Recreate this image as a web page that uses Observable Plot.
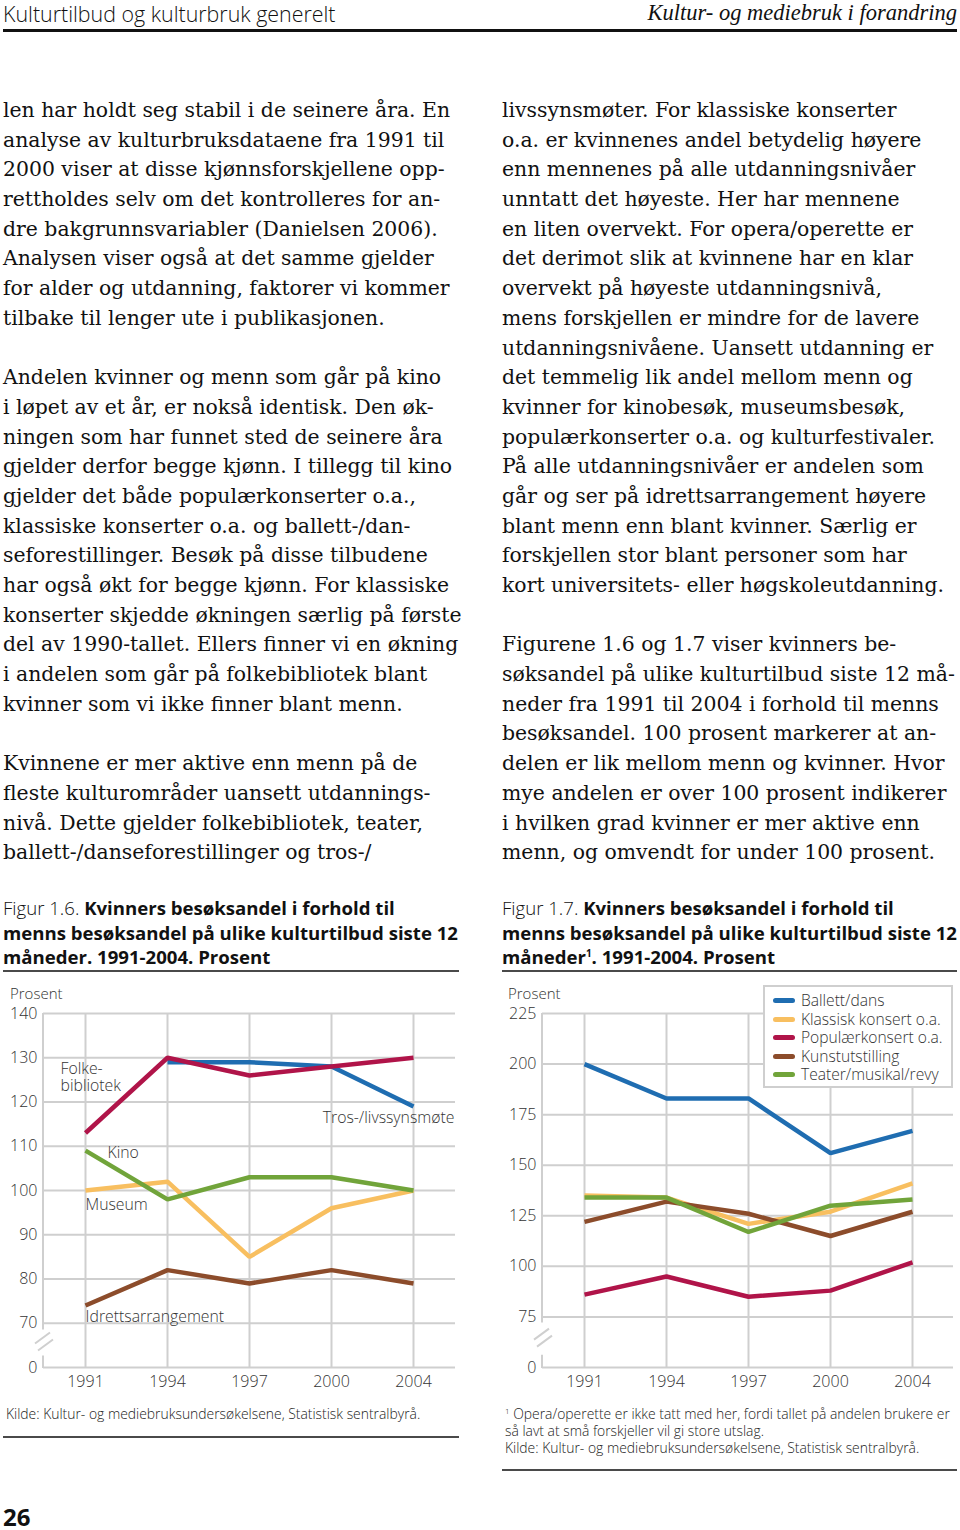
<!DOCTYPE html>
<html><head><meta charset="utf-8">
<script src="https://cdn.jsdelivr.net/npm/d3@7"></script>
<script src="https://cdn.jsdelivr.net/npm/@observablehq/plot@0.6"></script>
<style>
body{margin:0;background:#fff;}
#page{position:relative;width:960px;height:1530px;overflow:hidden;background:#fff;color:#1a1a1a;}
.abs{position:absolute;white-space:nowrap;}
.sans{font-family:"Open Sans",Roboto,sans-serif;}
.col{position:absolute;top:96px;font-family:"DejaVu Serif",serif;font-size:20.4px;line-height:29.7px;color:#111;}
.col div{height:29.7px;white-space:nowrap;}
.cap{font-family:"Open Sans",sans-serif;font-size:18.6px;line-height:24.5px;color:#111;top:896px;}
.cap .lt{font-weight:300;}
.cap b{font-weight:700;}
.rule{position:absolute;background:#4a4a4a;height:2px;}
.src{font-family:"Open Sans",sans-serif;font-weight:300;font-size:13.9px;line-height:17px;color:#222;}
.plotbox{position:absolute;}
.prosent{font-family:"Open Sans",sans-serif;font-weight:300;font-size:15px;color:#333;}
.legend{position:absolute;left:763px;top:985px;width:186px;height:99px;border:2px solid #cfcfcf;background:#fff;font-family:"Open Sans",sans-serif;font-weight:300;font-size:15.6px;color:#333;}
.legend .row{position:absolute;left:8px;height:18px;line-height:18px;white-space:nowrap;}
.legend .sw{display:inline-block;width:22px;height:5px;border-radius:3px;vertical-align:middle;margin-right:6px;position:relative;top:-1px;}
</style></head>
<body><div id="page">
<div class="abs sans" style="left:3px;top:-1px;font-size:21.4px;font-weight:300;color:#111;">Kulturtilbud og kulturbruk generelt</div>
<div class="abs" style="right:3px;top:0px;font-family:'Liberation Serif',serif;font-style:italic;font-size:22.5px;color:#111;">Kultur- og mediebruk i forandring</div>
<div class="rule" style="left:3px;top:29px;width:954px;height:3px;background:#111;"></div>
<div id="colL" class="col" style="left:3px;"></div>
<div id="colR" class="col" style="left:502px;"></div>
<div class="abs cap" style="left:3px;"><span class="lt">Figur 1.6. </span><b>Kvinners besøksandel i forhold til</b><br><b>menns besøksandel på ulike kulturtilbud siste 12</b><br><b>måneder. 1991-2004. Prosent</b></div>
<div class="abs cap" style="left:502px;"><span class="lt">Figur 1.7. </span><b>Kvinners besøksandel i forhold til</b><br><b>menns besøksandel på ulike kulturtilbud siste 12</b><br><b>måneder<sup style="font-size:10px;vertical-align:7px;line-height:0">1</sup>. 1991-2004. Prosent</b></div>
<div class="rule" style="left:3px;top:970px;width:456px;"></div>
<div class="rule" style="left:502px;top:970px;width:455px;"></div>
<div id="chart1" class="plotbox" style="left:0px;top:980px;"></div>
<div id="chart2" class="plotbox" style="left:495px;top:980px;"></div>
<div class="abs prosent" style="left:10px;top:983px;">Prosent</div>
<div class="abs prosent" style="left:508px;top:983px;">Prosent</div>
<div id="legend" class="legend"></div>
<div class="abs src" style="left:6px;top:1405px;">Kilde: Kultur- og mediebruksundersøkelsene, Statistisk sentralbyrå.</div>
<div class="rule" style="left:3px;top:1436px;width:456px;"></div>
<div class="abs src" style="left:505px;top:1405px;"><sup style="font-size:8px;vertical-align:5px;line-height:0">1</sup> Opera/operette er ikke tatt med her, fordi tallet på andelen brukere er<br>så lavt at små forskjeller vil gi store utslag.<br>Kilde: Kultur- og mediebruksundersøkelsene, Statistisk sentralbyrå.</div>
<div class="rule" style="left:502px;top:1469px;width:455px;"></div>
<div class="abs sans" style="left:3px;top:1505px;font-size:24px;line-height:24px;font-weight:700;color:#111;">26</div>
</div>
<script>
// ---- text ----
const leftLines = [
"len har holdt seg stabil i de seinere åra. En",
"analyse av kulturbruksdataene fra 1991 til",
"2000 viser at disse kjønnsforskjellene opp-",
"rettholdes selv om det kontrolleres for an-",
"dre bakgrunnsvariabler (Danielsen 2006).",
"Analysen viser også at det samme gjelder",
"for alder og utdanning, faktorer vi kommer",
"tilbake til lenger ute i publikasjonen.",
"",
"Andelen kvinner og menn som går på kino",
"i løpet av et år, er nokså identisk. Den øk-",
"ningen som har funnet sted de seinere åra",
"gjelder derfor begge kjønn. I tillegg til kino",
"gjelder det både populærkonserter o.a.,",
"klassiske konserter o.a. og ballett-/dan-",
"seforestillinger. Besøk på disse tilbudene",
"har også økt for begge kjønn. For klassiske",
"konserter skjedde økningen særlig på første",
"del av 1990-tallet. Ellers finner vi en økning",
"i andelen som går på folkebibliotek blant",
"kvinner som vi ikke finner blant menn.",
"",
"Kvinnene er mer aktive enn menn på de",
"fleste kulturområder uansett utdannings-",
"nivå. Dette gjelder folkebibliotek, teater,",
"ballett-/danseforestillinger og tros-/"
];
const rightLines = [
"livssynsmøter. For klassiske konserter",
"o.a. er kvinnenes andel betydelig høyere",
"enn mennenes på alle utdanningsnivåer",
"unntatt det høyeste. Her har mennene",
"en liten overvekt. For opera/operette er",
"det derimot slik at kvinnene har en klar",
"overvekt på høyeste utdanningsnivå,",
"mens forskjellen er mindre for de lavere",
"utdanningsnivåene. Uansett utdanning er",
"det temmelig lik andel mellom menn og",
"kvinner for kinobesøk, museumsbesøk,",
"populærkonserter o.a. og kulturfestivaler.",
"På alle utdanningsnivåer er andelen som",
"går og ser på idrettsarrangement høyere",
"blant menn enn blant kvinner. Særlig er",
"forskjellen stor blant personer som har",
"kort universitets- eller høgskoleutdanning.",
"",
"Figurene 1.6 og 1.7 viser kvinners be-",
"søksandel på ulike kulturtilbud siste 12 må-",
"neder fra 1991 til 2004 i forhold til menns",
"besøksandel. 100 prosent markerer at an-",
"delen er lik mellom menn og kvinner. Hvor",
"mye andelen er over 100 prosent indikerer",
"i hvilken grad kvinner er mer aktive enn",
"menn, og omvendt for under 100 prosent."
];
function fillCol(id, lines){
  const el = document.getElementById(id);
  for (const l of lines){ const d = document.createElement("div"); d.textContent = l || "\u00a0"; el.appendChild(d); }
}
fillCol("colL", leftLines);
fillCol("colR", rightLines);

// ---- data ----
const years = ["1991","1994","1997","2000","2004"];

// Figur 1.6
const fig6Series = ["Tros-/livssynsmøte","Museum","Kino","Idrettsarrangement","Folkebibliotek"];
const fig6Colors = ["#1f6db1","#f8bf60","#71a43a","#8c4c2b","#b01449"];
const tros = [null,129,129,128,119];
const museum = [100,102,85,96,100];
const kino = [109,98,103,103,100];
const idrett = [74,82,79,82,79];
const folkebibliotek = [113,130,126,128,130];
const fig6Values = [tros, museum, kino, idrett, folkebibliotek];
const fig6Ticks = [60,70,80,90,100,110,120,130,140];

// Figur 1.7
const fig7Legend = ["Ballett/dans","Klassisk konsert o.a.","Populærkonsert o.a.","Kunstutstilling","Teater/musikal/revy"];
const fig7LegendColors = ["#1f6db1","#f8bf60","#b01449","#8c4c2b","#71a43a"];
const ballett = [200,183,183,156,167];
const klassisk = [135,134,121,127,141];
const populaer = [86,95,85,88,102];
const kunst = [122,132,126,115,127];
const teater = [134,134,117,130,133];
// draw order
const fig7Series = ["Ballett/dans","Klassisk konsert o.a.","Kunstutstilling","Teater/musikal/revy","Populærkonsert o.a."];
const fig7Values = [ballett, klassisk, kunst, teater, populaer];
const fig7Ticks = [50,75,100,125,150,175,200,225];

function longTable(series, values){
  const out = [];
  series.forEach((s,i)=> years.forEach((y,j)=> out.push({series:s, year:y, value: values[i][j]})));
  return out;
}

const GRID = "#cfcfcf";
function breakMark(top, cutHi, cutLo, bottom){
  return (index, scales, values, dims) => {
    const x0 = dims.marginLeft;
    const y = scales.y;
    const g = d3.create("svg:g").attr("stroke", GRID).attr("stroke-width", 2).attr("fill","none");
    g.append("line").attr("x1",x0).attr("x2",x0).attr("y1",y(top)).attr("y2",y(cutHi));
    g.append("line").attr("x1",x0).attr("x2",x0).attr("y1",y(cutLo)).attr("y2",y(bottom)+1);
    const ym = (y(cutHi)+y(cutLo))/2;
    g.append("line").attr("x1",x0-8).attr("y1",ym+1).attr("x2",x0+7).attr("y2",ym-10);
    g.append("line").attr("x1",x0-5).attr("y1",ym+8).attr("x2",x0+10).attr("y2",ym-3);
    return g.node();
  };
}

function makeChart({width, marginLeft, marginRight, domain, ticks, series, values, colors, labels, cutHi, cutLo}){
  const data = longTable(series, values);
  return Plot.plot({
    width, height: 410,
    marginLeft, marginRight, marginTop: 33, marginBottom: 23,
    style: {fontFamily: "'Open Sans', sans-serif", fontWeight: 300, color: "#333", background: "transparent", overflow: "visible"},
    x: {type: "point", domain: years, padding: 0.5, axis: null, label: null},
    y: {domain, axis: null, label: null},
    color: {domain: series, range: colors},
    marks: [
      Plot.gridY(ticks, {stroke: GRID, strokeOpacity: 1, strokeWidth: 2}),
      Plot.gridX(years, {stroke: GRID, strokeOpacity: 1, strokeWidth: 2}),
      breakMark(domain[1], cutHi, cutLo, domain[0]),
      Plot.axisY(ticks, {label: null, tickSize: 0, tickPadding: 6, fontSize: 16, fill: "#333", tickFormat: d => d === domain[0] ? "0" : String(d)}),
      Plot.axisX(years, {label: null, tickSize: 0, tickPadding: 8, fontSize: 16, fill: "#333"}),
      ...series.map(s => Plot.line(data.filter(d => d.series === s), {
        x: "year", y: "value", stroke: "series", strokeWidth: 4.5,
        strokeLinejoin: "miter", strokeLinecap: "butt"
      })),
      ...(labels || []).map(l => Plot.text([l], {
        x: "year", y: "value", text: "text", dx: l.dx, textAnchor: l.anchor,
        fontSize: 15.8, lineHeight: 1.08, fill: "#333"
      }))
    ]
  });
}

// label placement for Figur 1.6 (direct labels)
const fig6Labels = [
  {text: "Folke-\nbibliotek", year: "1991", value: 125.6, dx: -25, anchor: "start"},
  {text: "Tros-/livssynsmøte", year: "2004", value: 116.5, dx: 41, anchor: "end"},
  {text: "Kino", year: "1991", value: 108.6, dx: 22, anchor: "start"},
  {text: "Museum", year: "1991", value: 96.8, dx: 0, anchor: "start"},
  {text: "Idrettsarrangement", year: "1991", value: 71.5, dx: 0, anchor: "start"}
];

document.getElementById("chart1").appendChild(makeChart({
  width: 470, marginLeft: 43, marginRight: 15,
  domain: [60,140], ticks: fig6Ticks,
  series: fig6Series, values: fig6Values, colors: fig6Colors,
  labels: fig6Labels, cutHi: 68.5, cutLo: 62.6
}));

const drawColors = fig7Series.map(s => fig7LegendColors[fig7Legend.indexOf(s)]);
document.getElementById("chart2").appendChild(makeChart({
  width: 465, marginLeft: 47, marginRight: 7,
  domain: [50,225], ticks: fig7Ticks,
  series: fig7Series, values: fig7Values, colors: drawColors,
  labels: [], cutHi: 72, cutLo: 56
}));

// legend for Figur 1.7
const leg = document.getElementById("legend");
fig7Legend.forEach((s,i) => {
  const r = document.createElement("div");
  r.className = "row";
  r.style.top = (4 + i*18.5) + "px";
  r.innerHTML = `<span class="sw" style="background:${fig7LegendColors[i]}"></span>`;
  r.appendChild(document.createTextNode(s));
  leg.appendChild(r);
});
</script>
</body></html>
